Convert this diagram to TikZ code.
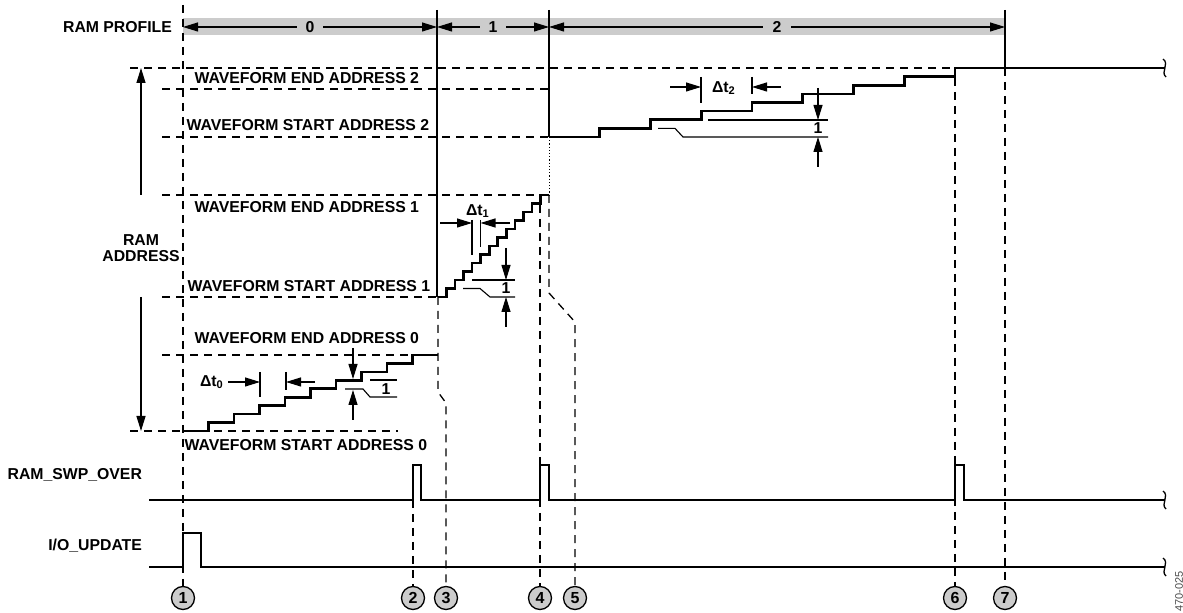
\documentclass[tikz,border=0pt]{standalone}
\usepackage{fontspec}
\setmainfont{Liberation Sans}
\usetikzlibrary{positioning, arrows.meta}

\begin{document}
\begin{tikzpicture}[
    x=0.5pt, y=-0.5pt,
    font=\fontsize{7.9}{8}\selectfont\bfseries,
    lbl/.style={inner sep=0.6pt, fill=white, anchor=west},
    sig/.style={line width=1.1pt},
    stair/.style={line width=1.3pt},
    addrline/.style={dash pattern=on 4pt off 3pt, line width=0.65pt},
    tline/.style={dash pattern=on 4pt off 3pt, line width=0.65pt},
    bound/.style={line width=0.65pt},
    barlbl/.style={fill=gray!40, inner xsep=4.5pt, inner ysep=1pt},
    barrow/.style={{Triangle[length=7.5pt, width=4.5pt]}-{Triangle[length=7.5pt, width=4.5pt]}, line width=0.55pt},
    bigarrow/.style={-{Triangle[length=7.5pt, width=4.5pt]}, line width=0.65pt},
    dimarrow/.style={-{Triangle[length=7.5pt, width=4.5pt]}, line width=0.55pt},
    ext/.style={line width=0.55pt},
    numcirc/.style={circle, draw, fill=gray!40, line width=0.65pt, minimum size=11.5pt, inner sep=0pt, font=\fontsize{8}{8}\selectfont\bfseries},
    brk/.style={line width=0.65pt}
  ]
    \useasboundingbox (0,0) rectangle (1183,613);
    %% RAM profile bar
    \fill[gray!40] (183,18) rectangle (1005,35);
    \coordinate (b0) at (183,27);
    \coordinate (b1) at (437,27);
    \coordinate (b2) at (549,27);
    \coordinate (b3) at (1005,27);
    \draw[barrow] (b0) -- node[barlbl] (p0) {0} (b1);
    \draw[barrow] (b1) -- node[barlbl] (p1) {1} (b2);
    \draw[barrow] (b2) -- node[barlbl, inner xsep=5pt] (p2) {2} (b3);
    \node[left=2pt of b0] (profile) {RAM PROFILE};
    %% address levels
    \draw[addrline] (130,68) -- (955,68);
    \draw[addrline] (162,89) -- (549,89);
    \draw[addrline] (162,137) -- (549,137);
    \draw[addrline] (162,195) -- (540,195);
    \draw[addrline] (162,297) -- (438,297);
    \draw[addrline] (162,355) -- (412,355);
    \draw[addrline] (130,431) -- (398,431);
    \node[lbl] (end2) at (193,78) {WAVEFORM END ADDRESS 2};
    \node[lbl] (start2) at (185,125) {WAVEFORM START ADDRESS 2};
    \node[lbl] (end1) at (193,207) {WAVEFORM END ADDRESS 1};
    \node[lbl] (start1) at (186,286) {WAVEFORM START ADDRESS 1};
    \node[lbl] (end0) at (193,338) {WAVEFORM END ADDRESS 0};
    \node[lbl] (start0) at (183,445) {WAVEFORM START ADDRESS 0};
    %% RAM address arrows
    \node[align=center] (ramaddr) at (141,248) {RAM\\ADDRESS};
    \draw[bigarrow] (141,195) -- (141,68);
    \draw[bigarrow] (141,297) -- (141,431);
    %% event markers
    \node[numcirc] (m1) at (183,598) {1};
    \node[numcirc] (m2) at (413,598) {2};
    \node[numcirc] (m3) at (446,598) {3};
    \node[numcirc] (m4) at (540,598) {4};
    \node[numcirc] (m5) at (575,598) {5};
    \node[numcirc] (m6) at (955,598) {6};
    \node[numcirc] (m7) at (1005,598) {7};
    \draw[tline] (183,5) -- (m1);
    \draw[bound] (437,10) -- (437,297);
    \draw[tline] (438,297) -- (438,392) -- (446,403) -- (m3);
    \draw[bound] (549,10) -- (549,137);
    \draw[dash pattern=on 0.6pt off 1pt, line width=0.5pt] (549,137) -- (549,195);
    \draw[tline] (549,195) -- (549,293) -- (575,322) -- (m5);
    \draw[tline] (540,205) -- (m4);
    \draw[tline] (413,500) -- (m2);
    \draw[tline] (955,78) -- (m6);
    \draw[bound] (1005,10) -- (1005,68);
    \draw[tline] (1005,68) -- (m7);
    %% staircases
    \draw[stair] (183,431) foreach \k in {1,...,9} { -- ++(25.5,0) -- ++(0,-8.444) } -- ++(25.5,0);
    \draw[stair] (438,297) foreach \k in {1,...,12} { -- ++(8.54,0) -- ++(0,-8.5) } -- ++(8.54,0);
    \draw[stair] (549,137) foreach \k in {1,...,8} { -- ++(50.75,0) -- ++(0,-8.625) } -- (1165,68);
    %% signals
    \draw[sig] (149,500) -- (413,500) -- (413,465) -- (421,465) -- (421,500) -- (540,500) -- (540,465)
      -- (549,465) -- (549,500) -- (955,500) -- (955,465) -- (964,465) -- (964,500) -- (1165,500);
    \draw[sig] (149,567) -- (183,567) -- (183,533) -- (201,533) -- (201,567) -- (1165,567);
    \node[anchor=east] (swp) at (149,475) {RAM\_SWP\_OVER};
    \node[anchor=east] (ioup) at (149,546) {I/O\_UPDATE};
    %% breaks
    \foreach \yy in {68,500,567}
      \draw[brk] (1163,\yy-9) .. controls (1170,\yy-4) and (1160,\yy+4) .. (1166,\yy+9);
    %% delta t0 and one step
    \node (dt0) at (212,382) {Δt\textsubscript{0}};
    \draw[ext] (260,372) -- (260,397);
    \draw[ext] (286,372) -- (286,390);
    \draw[dimarrow] (228,382) -- (260,382);
    \draw[dimarrow] (315,382) -- (286,382);
    \draw[dimarrow] (353,348) -- (353,379);
    \draw[dimarrow] (353,420) -- (353,390);
    \draw[ext] (370,380) -- (397,380);
    \draw[ext] (345,389) -- (363,389) -- (370,397) -- (397,397);
    \node (one0) at (386,389) {1};
    %% delta t1 and one step
    \node (dt1) at (478,211) {Δt\textsubscript{1}};
    \draw[ext] (472,220) -- (472,255);
    \draw[ext] (480.5,220) -- (480.5,247);
    \draw[dimarrow] (440,223) -- (472,223);
    \draw[dimarrow] (510,223) -- (480.5,223);
    \draw[dimarrow] (506,248) -- (506,280);
    \draw[dimarrow] (506,327) -- (506,297);
    \draw[ext] (472,280) -- (515,280);
    \draw[ext] (463,288.5) -- (480,288.5) -- (490,297) -- (515,297);
    \node (one1) at (506,288.5) {1};
    %% delta t2 and one step
    \node (dt2) at (724,88) {Δt\textsubscript{2}};
    \draw[ext] (701,77) -- (701,103);
    \draw[ext] (752,77) -- (752,94);
    \draw[dimarrow] (670,87) -- (701,87);
    \draw[dimarrow] (781,87) -- (752,87);
    \draw[dimarrow] (818,88) -- (818,120);
    \draw[dimarrow] (818,167) -- (818,137);
    \draw[ext] (708,120) -- (828,120);
    \draw[ext] (658,128.4) -- (675,128.4) -- (683,137) -- (828,137);
    \node (one2) at (818,128.5) {1};
    %% figure id
    \node[rotate=90, anchor=west, inner sep=0pt, text=gray!60!black, font=\fontsize{5.5}{6}\selectfont] (figid) at (1179,612) {470-025};
\end{tikzpicture}
\end{document}
